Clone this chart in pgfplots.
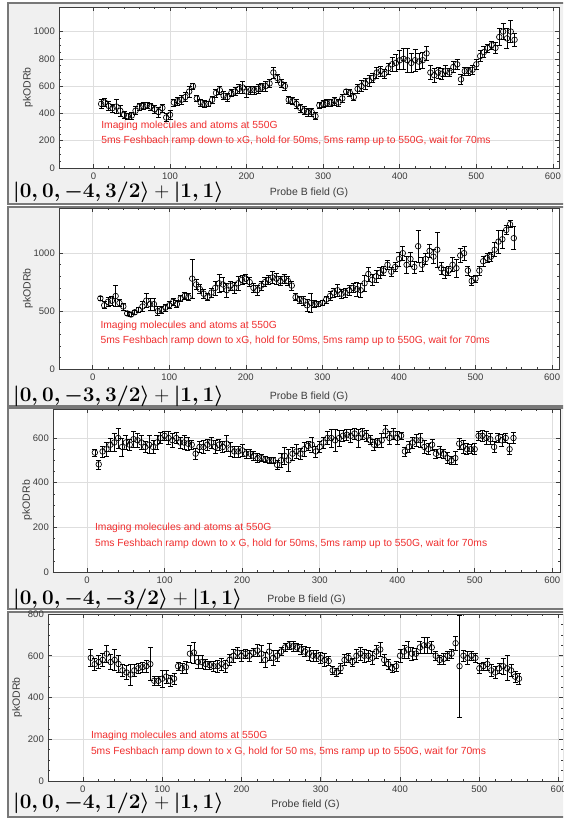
\documentclass[border=0pt]{standalone}
\usepackage[no-math]{fontspec}
\usepackage{amsmath}
\usepackage{pgfplots}
\usepackage{pgfplotstable}
\pgfplotsset{compat=1.18}
\newfontfamily\arial{Liberation Sans}
\definecolor{mred}{RGB}{240,45,45}
\definecolor{axgray}{RGB}{60,60,60}
\definecolor{framebg}{RGB}{240,240,240}
\definecolor{frameline}{RGB}{120,120,120}
\newcommand\kfont{\fontsize{20.2}{21}\selectfont}
\newcommand\ket[1]{\boldsymbol{\vert #1\rangle}}

\pgfplotstableread{
x y e
10 470 30
15 480 30
20 455 35
25 440 30
30 450 50
35 420 40
40 390 25
45 380 20
50 385 25
55 420 30
60 450 25
65 455 25
70 460 20
75 450 25
80 430 30
85 410 35
90 440 30
95 370 30
100 390 30
105 480 25
110 490 30
115 500 35
120 520 35
125 560 40
130 600 20
135 510 25
140 480 25
145 470 25
150 470 20
155 500 25
160 550 30
165 570 30
170 530 30
175 520 30
180 550 25
185 560 30
190 580 35
195 590 45
200 560 40
205 570 30
210 570 30
215 580 35
220 590 30
225 600 35
230 620 30
235 700 40
240 660 30
245 620 30
250 600 30
255 500 25
260 490 25
265 470 30
270 440 30
275 420 30
280 410 30
285 410 30
290 380 25
295 460 20
300 470 25
305 475 25
310 480 25
315 490 30
320 480 25
325 510 30
330 560 20
335 550 25
340 520 25
345 580 35
350 600 40
355 620 40
360 640 40
365 660 35
370 700 40
375 710 35
380 690 35
385 730 40
390 760 50
395 770 60
400 790 70
405 800 80
410 790 90
415 770 70
420 790 80
425 780 60
430 790 60
435 840 50
440 700 50
445 680 50
450 700 40
455 690 40
460 710 40
465 700 30
470 740 40
475 760 40
480 650 40
485 710 30
490 710 30
495 720 30
500 760 40
505 820 40
510 850 40
515 880 30
520 900 30
525 880 40
530 960 60
535 1000 60
540 950 70
545 1000 80
550 940 50
}\dataA

\pgfplotstableread{
x y e
10 610 20
15 550 30
20 580 40
25 590 40
30 630 90
35 570 30
40 540 30
45 480 20
50 470 15
55 490 20
60 510 20
65 540 40
70 590 60
75 560 50
80 560 50
85 500 40
90 510 30
95 530 30
100 550 30
105 580 30
110 560 30
115 610 30
120 630 30
125 620 30
130 780 170
135 730 40
140 690 40
145 650 40
150 620 30
155 660 40
160 700 60
165 740 80
170 730 60
175 680 60
180 720 40
185 700 50
190 740 60
195 770 40
200 780 40
205 750 40
210 700 40
215 680 40
220 720 40
225 750 40
230 770 40
235 790 50
240 780 50
245 760 40
250 780 40
255 760 40
260 720 40
265 620 30
270 600 30
275 590 40
280 550 50
285 570 80
290 560 30
295 560 20
300 570 20
305 600 30
310 630 40
315 660 40
320 680 50
325 650 40
330 660 40
335 680 40
340 700 40
345 690 60
350 680 60
355 740 70
360 820 60
365 770 50
370 800 50
375 830 50
380 850 40
385 900 40
390 840 40
395 880 40
400 950 60
405 1000 60
410 900 70
415 950 60
420 880 50
425 1060 140
430 900 60
435 950 50
440 1020 60
445 970 60
450 1030 150
455 870 50
460 830 50
465 850 40
470 900 60
475 870 80
480 980 60
485 1000 60
490 850 40
495 760 40
500 780 30
505 850 40
510 930 40
515 960 40
520 970 40
525 1030 60
530 1100 100
535 1120 80
540 1200 40
545 1250 30
550 1130 100
}\dataB

\pgfplotstableread{
x y e
10 535 15
15 482 20
20 540 25
25 550 30
30 570 30
35 580 40
40 600 45
45 560 40
50 580 30
55 570 25
60 595 35
65 590 30
70 580 30
75 560 25
80 570 40
85 560 30
90 580 30
95 600 25
100 610 20
105 600 30
110 590 30
115 600 25
120 580 25
125 580 30
130 575 30
135 570 20
140 530 25
145 560 25
150 560 30
155 570 25
160 580 25
165 560 30
170 570 25
175 560 25
180 575 35
185 550 30
190 540 25
195 540 25
200 545 25
205 530 20
210 530 20
215 520 20
220 510 20
225 510 15
230 505 15
235 500 15
240 500 15
245 480 20
250 500 30
255 520 40
260 500 50
265 530 30
270 540 30
275 530 25
280 550 30
285 565 20
290 570 35
295 540 25
300 560 25
305 580 25
310 600 30
315 600 40
320 590 50
325 600 35
330 610 25
335 615 25
340 610 30
345 620 25
350 600 40
355 620 25
360 610 25
365 590 20
370 570 25
375 580 20
380 590 30
385 630 25
390 600 30
395 620 25
400 600 30
405 610 15
410 540 20
415 560 25
420 580 25
425 590 25
430 590 30
435 560 30
440 550 25
445 570 25
450 530 20
455 540 25
460 530 20
465 510 25
470 500 20
475 510 30
480 575 25
485 560 30
490 550 25
495 550 20
500 550 25
505 610 20
510 610 25
515 600 30
520 595 25
525 560 25
530 600 20
535 590 25
540 600 20
545 550 25
550 600 25
}\dataC

\pgfplotstableread{
x y e
10 590 40
15 560 30
20 570 30
25 580 30
30 610 40
35 570 35
40 580 50
45 560 40
50 530 30
55 520 35
60 510 50
65 530 30
70 540 25
75 545 25
80 550 30
85 560 80
90 480 20
95 480 20
100 490 40
105 500 30
110 480 25
115 490 25
120 550 20
125 540 25
130 545 30
135 610 40
140 615 50
145 570 30
150 570 30
155 560 25
160 555 20
165 550 25
170 550 30
175 560 30
180 550 30
185 580 25
190 600 30
195 615 25
200 600 25
205 610 20
210 600 25
215 615 20
220 625 30
225 610 40
230 580 35
235 620 40
240 590 35
245 600 25
250 620 20
255 640 20
260 650 20
265 645 25
270 640 20
275 630 25
280 620 25
285 610 30
290 600 25
295 600 25
300 590 25
305 580 30
310 575 20
315 530 20
320 520 20
325 540 25
330 580 25
335 590 20
340 570 20
345 600 30
350 610 30
355 600 30
360 600 25
365 590 30
370 620 30
375 630 35
380 580 25
385 560 25
390 540 20
395 550 25
400 600 30
405 620 30
410 630 40
415 610 30
420 610 25
425 640 30
430 650 40
435 650 40
440 640 30
445 600 20
450 580 20
455 585 25
460 600 20
465 610 20
470 660 35
475 550 245
480 600 25
485 590 30
490 600 20
495 590 20
500 540 25
505 550 20
510 560 30
515 530 30
520 520 30
525 540 25
530 550 40
535 540 60
540 530 30
545 500 25
550 490 25
}\dataD

\tikzset{note/.style={anchor=west, inner sep=0pt, text=mred, font=\arial\fontsize{10.3}{12}\selectfont},
  ketlab/.style={anchor=west, inner sep=0pt, font=\kfont}}

\pgfplotsset{
  panel/.style={
    scale only axis, anchor=south west,
    axis background/.style={fill=white},
    axis line style={draw=axgray, line width=0.6pt},
    every tick/.style={axgray, line width=0.6pt},
    major tick length=4pt, minor tick length=2pt,
    tick align=inside,
    xtick={0,100,...,600}, minor x tick num=4,
    ymin=0,
    grid=major, major grid style={black!13, line width=0.5pt},
    /pgf/number format/assume math mode=true,
    /pgf/number format/1000 sep={},
    ticklabel style={font=\arial\fontsize{9.5}{11}\selectfont, text=axgray},
    xticklabel style={anchor=north, inner sep=0pt, yshift=-5pt},
    yticklabel style={anchor=east, inner sep=0pt, xshift=-4pt},
    label style={font=\arial\fontsize{10.5}{12}\selectfont, text=axgray},
    ylabel={pkODRb},
    clip=false,
  },
  pts/.style={only marks, mark=o, black, mark size=2.8pt,
    mark options={line width=0.65pt, black},
    error bars/.cd, y dir=both, y explicit,
    error bar style={black, line width=0.65pt},
    error mark options={rotate=90, mark size=2.5pt, black, line width=0.65pt}},
}

\begin{document}
\begin{tikzpicture}
\path[use as bounding box] (0pt,0pt) rectangle (563pt,820pt);
\clip (0pt,0pt) rectangle (563pt,820pt);
\fill[white] (0pt,0pt) rectangle (563pt,820pt);
% panel frames
\filldraw[fill=framebg, draw=frameline, line width=1.2pt] (8pt,817pt) rectangle (566pt,616pt);
\filldraw[fill=framebg, draw=frameline, line width=1.2pt] (8pt,613pt) rectangle (566pt,414pt);
\filldraw[fill=framebg, draw=frameline, line width=1.2pt] (8pt,412pt) rectangle (566pt,211pt);
\filldraw[fill=framebg, draw=frameline, line width=1.2pt] (8pt,208pt) rectangle (566pt,3pt);

\node[ketlab] at (13pt,628pt) {$\ket{0,0,-4,3/2}+\ket{1,1}$};
\node[ketlab] at (13pt,424pt) {$\ket{0,0,-3,3/2}+\ket{1,1}$};
\node[ketlab] at (13pt,221pt) {$\ket{0,0,-4,-3/2}+\ket{1,1}$};
\node[ketlab] at (13pt,17pt) {$\ket{0,0,-4,1/2}+\ket{1,1}$};

% Panel 1
\begin{axis}[panel, at={(59pt,652pt)}, width=500pt, height=161pt,
  xmin=-45, xmax=608, ymax=1180, ytick={0,200,...,1000}, minor y tick num=3,
  xlabel={Probe B field (G)},
  xlabel style={at={(axis description cs:0.5,-0.155)}, anchor=center},
  ylabel style={at={(axis description cs:-0.062,0.5)}, anchor=center}]
\addplot+[pts] table[x=x, y=y, y error=e] {\dataA};
\node[note] at (axis cs:10,312) {Imaging molecules and atoms at 550G};
\node[note] at (axis cs:10,199) {5ms Feshbach ramp down to xG, hold for 50ms, 5ms ramp up to 550G, wait for 70ms};
\end{axis}

% Panel 2
\begin{axis}[panel, at={(59pt,451pt)}, width=500pt, height=161pt,
  xmin=-44, xmax=609, ymax=1390, ytick={0,500,1000}, minor y tick num=4,
  xlabel={Probe B field (G)},
  xlabel style={at={(axis description cs:0.5,-0.175)}, anchor=center},
  ylabel style={at={(axis description cs:-0.062,0.5)}, anchor=center}]
\addplot+[pts] table[x=x, y=y, y error=e] {\dataB};
\node[note] at (axis cs:10,373) {Imaging molecules and atoms at 550G};
\node[note] at (axis cs:10,241) {5ms Feshbach ramp down to xG, hold for 50ms, 5ms ramp up to 550G, wait for 70ms};
\end{axis}

% Panel 3
\begin{axis}[panel, at={(53pt,248pt)}, width=507pt, height=163pt,
  xmin=-44, xmax=610, ymax=730, ytick={0,200,...,600}, minor y tick num=3,
  xlabel={Probe B field (G)},
  xlabel style={at={(axis description cs:0.5,-0.17)}, anchor=center},
  ylabel style={at={(axis description cs:-0.051,0.44)}, anchor=center}]
\addplot+[pts] table[x=x, y=y, y error=e] {\dataC};
\node[note] at (axis cs:10,199) {Imaging molecules and atoms at 550G};
\node[note] at (axis cs:10,126) {5ms Feshbach ramp down to x G, hold for 50ms, 5ms ramp up to 550G, wait for 70ms};
\end{axis}

% Panel 4
\begin{axis}[panel, at={(48pt,39pt)}, width=515pt, height=167pt,
  xmin=-44, xmax=605.5, ymax=800, ytick={0,200,...,800}, minor y tick num=3,
  xlabel={Probe field (G)},
  xlabel style={at={(axis description cs:0.5,-0.142)}, anchor=center},
  ylabel style={at={(axis description cs:-0.060,0.5)}, anchor=center}]
\addplot+[pts] table[x=x, y=y, y error=e] {\dataD};
\node[note] at (axis cs:10,217) {Imaging molecules and atoms at 550G};
\node[note] at (axis cs:10,141) {5ms Feshbach ramp down to x G, hold for 50 ms, 5ms ramp up to 550G, wait for 70ms};
\end{axis}
\end{tikzpicture}
\end{document}
